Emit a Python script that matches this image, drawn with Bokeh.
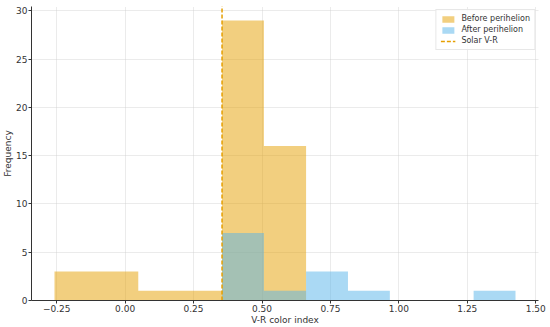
import math
from bokeh.plotting import figure
from bokeh.models import Legend, LegendItem, FixedTicker, Range1d
from bokeh.embed import file_html
from bokeh.resources import INLINE

# Histogram bins (common edges) and counts
bin_edges = [-0.258, -0.105, 0.048, 0.201, 0.354, 0.507, 0.661, 0.814, 0.967, 1.120, 1.273, 1.426]
before_counts = [3, 3, 1, 1, 29, 16, 0, 0, 0, 0, 0]
after_counts = [0, 0, 0, 0, 7, 1, 3, 1, 0, 0, 1]
solar_vr = 0.354

x_ticks = [-0.25, 0.0, 0.25, 0.5, 0.75, 1.0, 1.25, 1.5]
x_tick_labels = ["\u22120.25", "0.00", "0.25", "0.50", "0.75", "1.00", "1.25", "1.50"]
y_ticks = [0, 5, 10, 15, 20, 25, 30]

FONT = "DejaVu Sans"
TXT = "#333333"
ORANGE = "#E69F00"
BLUE = "#56B4E9"

p = figure(width=550, height=327, output_backend="svg", toolbar_location=None,
           x_range=Range1d(-0.342, 1.510), y_range=Range1d(0, 30.45),
           min_border_top=6, min_border_right=12, min_border_left=0, min_border_bottom=0)
p.outline_line_color = None
p.background_fill_color = "white"
p.border_fill_color = "white"

def step_outline(counts):
    """Histogram outline (one seamless shape per series) built from the bins."""
    xs, ys = [bin_edges[0]], [0]
    for i, c in enumerate(counts):
        xs += [bin_edges[i], bin_edges[i + 1]]
        ys += [c, c]
    xs.append(bin_edges[-1]); ys.append(0)
    return xs, ys

bx, by = step_outline(before_counts)
ax_, ay = step_outline(after_counts)
r_before = p.patch(bx, by, fill_color=ORANGE, fill_alpha=0.5, line_color=None)
r_after = p.patch(ax_, ay, fill_color=BLUE, fill_alpha=0.5, line_color=None)

# vertical solar line: ray from the x axis upward (length 0 = unbounded)
r_solar = p.ray(x=[solar_vr], y=[0], angle=math.pi / 2, length=0,
                line_color=ORANGE, line_dash="4 2", line_width=1.5)

legend = Legend(items=[LegendItem(label="Before perihelion", renderers=[r_before]),
                       LegendItem(label="After perihelion", renderers=[r_after]),
                       LegendItem(label="Solar V-R", renderers=[r_solar])],
                location="top_right")
legend.label_text_font = FONT
legend.label_text_font_size = "8px"
legend.label_text_color = TXT
legend.label_height = 9
legend.glyph_height = 8
legend.glyph_width = 15
legend.label_standoff = 6
legend.spacing = 2
legend.padding = 4
legend.margin = 3
legend.border_line_color = "#d0d0d0"
legend.border_line_width = 1
legend.background_fill_alpha = 0.85
p.add_layout(legend)

# grids
for g in (p.xgrid, p.ygrid):
    g.grid_line_color = "#cccccc"
    g.grid_line_dash = "1 1"
    g.grid_line_width = 0.8
p.xgrid.ticker = FixedTicker(ticks=x_ticks)
p.ygrid.ticker = FixedTicker(ticks=y_ticks)

xa = p.xaxis[0]
ya = p.yaxis[0]
xa.ticker = FixedTicker(ticks=x_ticks)
xa.major_label_overrides = {t: l for t, l in zip(x_ticks, x_tick_labels)}
ya.ticker = FixedTicker(ticks=y_ticks)
xa.axis_label = "V-R color index"
ya.axis_label = "Frequency"
for a in (xa, ya):
    a.axis_line_color = "#333333"
    a.axis_line_width = 1
    a.major_tick_line_color = "#333333"
    a.major_tick_out = 3
    a.major_tick_in = 0
    a.minor_tick_line_color = None
    a.major_label_text_font = FONT
    a.major_label_text_font_size = "9px"
    a.major_label_text_color = TXT
    a.axis_label_text_font = FONT
    a.axis_label_text_font_size = "9px"
    a.axis_label_text_font_style = "normal"
    a.axis_label_text_color = TXT
    a.axis_label_standoff = 0
    a.major_label_standoff = 1

open("out.html", "w").write(file_html(p, INLINE))
